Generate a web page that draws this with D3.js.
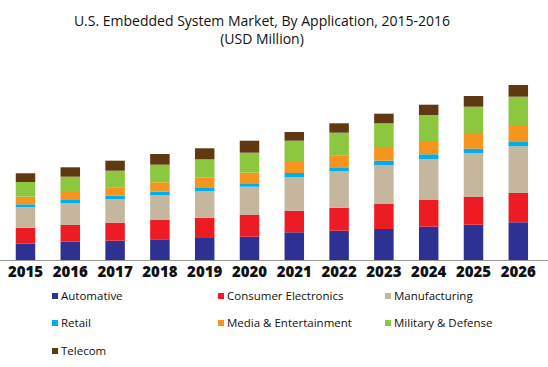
<!DOCTYPE html>
<html>
<head>
<meta charset="utf-8">
<script src="https://cdn.jsdelivr.net/npm/d3@7"></script>
<style>
  body { margin: 0; background: #fff; }
  svg { display: block; font-family: "Open Sans", "Noto Sans", sans-serif; }
</style>
</head>
<body>
<div id="chart"></div>
<script>
// Datos (unidades relativas)
const years = ["2015", "2016", "2017", "2018", "2019", "2020", "2021", "2022", "2023", "2024", "2025", "2026"];
const seriesNames = ["Automative", "Consumer Electronics", "Manufacturing", "Retail", "Media & Entertainment", "Military & Defense", "Telecom"];
const seriesColors = ["#2e3192", "#ed1c24", "#c4b79d", "#00aeef", "#f7941d", "#8dc63f", "#603913"];

const automative = [16.3, 18.3, 19.3, 20.7, 22.0, 23.3, 27.7, 29.3, 31.0, 33.3, 35.3, 37.7];
const consumerElectronics = [16.0, 16.7, 18.0, 19.3, 20.3, 21.7, 21.6, 23.0, 25.0, 26.7, 27.7, 29.3];
const manufacturing = [20.7, 22.0, 23.7, 25.0, 26.4, 28.3, 33.7, 36.4, 39.0, 41.0, 43.7, 46.7];
const retail = [2.7, 3.0, 3.3, 3.3, 3.3, 3.4, 4.0, 4.0, 4.3, 4.7, 4.6, 5.0];
const media = [7.6, 8.0, 8.4, 9.4, 10.3, 10.6, 11.0, 12.0, 12.7, 13.3, 14.7, 15.3];
const military = [14.7, 15.3, 16.6, 17.6, 18.4, 20.0, 21.3, 22.6, 24.7, 26.0, 27.3, 29.3];
const telecom = [8.7, 9.4, 10.0, 10.7, 11.0, 12.0, 8.7, 9.4, 9.6, 10.3, 10.7, 11.7];

const seriesValues = [automative, consumerElectronics, manufacturing, retail, media, military, telecom];

const width = 548;
const height = 367;
const baseY = 260;

const svg = d3.select("#chart")
  .append("svg")
  .attr("width", width)
  .attr("height", height);

// Título
svg.append("text")
  .attr("x", 262).attr("y", 26)
  .attr("text-anchor", "middle")
  .attr("font-size", 14)
  .attr("fill", "#111")
  .text("U.S. Embedded System Market, By Application, 2015-2016");
svg.append("text")
  .attr("x", 262).attr("y", 44)
  .attr("text-anchor", "middle")
  .attr("font-size", 14)
  .attr("fill", "#111")
  .text("(USD Million)");

// Tabla para d3.stack
const table = years.map((y, i) => {
  const row = { year: y };
  seriesNames.forEach((s, j) => { row[s] = seriesValues[j][i]; });
  return row;
});

const stacked = d3.stack().keys(seriesNames)(table);

const x = d3.scaleBand()
  .domain(years)
  .range([3.1, 540.7])
  .paddingInner(0.565)
  .paddingOuter(0.2825);

const y = d3.scaleLinear()
  .domain([0, 175])
  .range([baseY, baseY - 175]);

const color = d3.scaleOrdinal().domain(seriesNames).range(seriesColors);

svg.append("g")
  .selectAll("g")
  .data(stacked)
  .join("g")
  .attr("fill", d => color(d.key))
  .selectAll("rect")
  .data(d => d)
  .join("rect")
  .attr("x", d => x(d.data.year))
  .attr("y", d => y(d[1]))
  .attr("width", x.bandwidth())
  .attr("height", d => y(d[0]) - y(d[1]));

// Línea base
svg.append("line")
  .attr("x1", 0).attr("x2", width)
  .attr("y1", baseY + 0.5).attr("y2", baseY + 0.5)
  .attr("stroke", "#9a9a9a")
  .attr("stroke-width", 1);

// Eje X
const xAxis = svg.append("g")
  .attr("transform", `translate(0,${baseY})`)
  .call(d3.axisBottom(x).tickSize(0).tickPadding(6));
xAxis.select(".domain").remove();
xAxis.selectAll("text")
  .attr("font-size", 15)
  .attr("font-weight", 800)
  .attr("font-family", "'Open Sans', sans-serif")
  .attr("fill", "#111");

// Leyenda
const legendPos = [
  [52, 296], [218, 296], [385, 296],
  [52, 323], [218, 323], [385, 323],
  [52, 351]
];
const legend = svg.append("g")
  .selectAll("g")
  .data(seriesNames)
  .join("g")
  .attr("transform", (d, i) => `translate(${legendPos[i][0]},${legendPos[i][1]})`);

legend.append("rect")
  .attr("x", 0).attr("y", -3)
  .attr("width", 6).attr("height", 6)
  .attr("fill", d => color(d));

legend.append("text")
  .attr("x", 9).attr("y", 0)
  .attr("dy", "0.35em")
  .attr("font-size", 11.5)
  .attr("fill", "#111")
  .text(d => d);
</script>
</body>
</html>
